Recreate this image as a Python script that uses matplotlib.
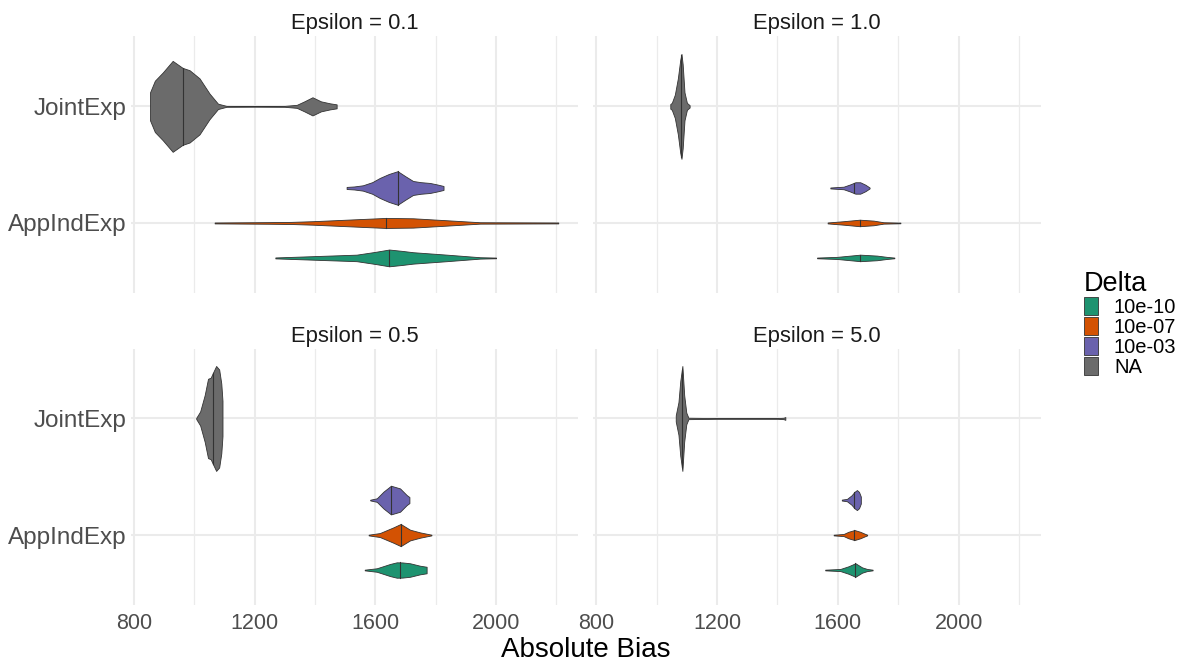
import numpy as np
import matplotlib
matplotlib.use("Agg")
import matplotlib.pyplot as plt
from matplotlib.patches import Patch

plt.rcParams['font.family'] = ['Liberation Sans', 'DejaVu Sans']

# Categories / groups
methods = ["AppIndExp", "JointExp"]
deltas = ["10e-10", "10e-07", "10e-03", "NA"]
colours = {"10e-10": "#1E9370", "10e-07": "#D35203", "10e-03": "#6A62AD", "NA": "#6B6B6B"}
epsilons = ["0.1", "1.0", "0.5", "5.0"]

# Violin outlines: x = Absolute Bias, w = half width (category units)
# Epsilon = 0.1
e01_joint_x = [854, 870, 896, 929, 962, 985, 1018, 1051, 1079, 1107, 1200, 1300, 1340, 1365, 1392, 1420, 1450, 1472]
e01_joint_w = [0.12, 0.22, 0.29, 0.39, 0.33, 0.31, 0.24, 0.11, 0.023, 0.004, 0.003, 0.004, 0.013, 0.043, 0.078, 0.043, 0.026, 0.017]
e01_d03_x = [1505, 1530, 1559, 1590, 1615, 1645, 1674, 1700, 1725, 1750, 1781, 1805, 1826]
e01_d03_w = [0.009, 0.013, 0.023, 0.05, 0.086, 0.12, 0.144, 0.10, 0.06, 0.05, 0.043, 0.03, 0.017]
e01_d07_x = [1068, 1250, 1320, 1393, 1505, 1635, 1725, 1837, 1947, 2206]
e01_d07_w = [0.004, 0.007, 0.009, 0.015, 0.028, 0.043, 0.04, 0.023, 0.006, 0.004]
e01_d10_x = [1269, 1393, 1538, 1600, 1646, 1690, 1725, 1837, 1947, 2000]
e01_d10_w = [0.004, 0.015, 0.028, 0.052, 0.072, 0.06, 0.049, 0.028, 0.006, 0.003]
# Epsilon = 1.0
e1_joint_x = [1045, 1050, 1060, 1070, 1078, 1082, 1086, 1092, 1100, 1109]
e1_joint_w = [0.02, 0.03, 0.10, 0.24, 0.40, 0.45, 0.36, 0.12, 0.03, 0.01]
e1_d03_x = [1575, 1619, 1640, 1658, 1674, 1691, 1705]
e1_d03_w = [0.004, 0.011, 0.03, 0.049, 0.049, 0.028, 0.004]
e1_d07_x = [1566, 1619, 1672, 1718, 1751, 1807]
e1_d07_w = [0.004, 0.015, 0.028, 0.02, 0.006, 0.003]
e1_d10_x = [1531, 1597, 1674, 1729, 1762, 1787]
e1_d10_w = [0.003, 0.009, 0.028, 0.02, 0.009, 0.003]
# Epsilon = 0.5
e05_joint_x = [1007, 1020, 1035, 1046, 1055, 1062, 1073, 1083, 1090, 1094]
e05_joint_w = [0.005, 0.06, 0.2, 0.34, 0.35, 0.39, 0.45, 0.42, 0.3, 0.15]
e05_d03_x = [1583, 1605, 1627, 1652, 1682, 1704, 1713]
e05_d03_w = [0.003, 0.015, 0.072, 0.123, 0.10, 0.043, 0.026]
e05_d07_x = [1578, 1615, 1660, 1684, 1715, 1748, 1786]
e05_d07_w = [0.003, 0.017, 0.066, 0.095, 0.046, 0.023, 0.003]
e05_d10_x = [1565, 1605, 1649, 1671, 1690, 1715, 1748, 1770]
e05_d10_w = [0.003, 0.015, 0.052, 0.066, 0.065, 0.058, 0.037, 0.028]
# Epsilon = 5.0
e5_joint_x = [1063, 1072, 1078, 1085, 1091, 1098, 1105, 1200, 1300, 1400, 1420, 1426]
e5_joint_w = [0.026, 0.14, 0.32, 0.45, 0.2, 0.05, 0.006, 0.003, 0.003, 0.003, 0.006, 0.012]
e5_d03_x = [1613, 1630, 1645, 1655, 1663, 1670, 1676]
e5_d03_w = [0.004, 0.01, 0.04, 0.07, 0.086, 0.07, 0.03]
e5_d07_x = [1586, 1619, 1635, 1655, 1674, 1691, 1697]
e5_d07_w = [0.003, 0.009, 0.028, 0.043, 0.028, 0.009, 0.003]
e5_d10_x = [1558, 1608, 1635, 1658, 1680, 1697, 1715]
e5_d10_w = [0.003, 0.009, 0.032, 0.058, 0.023, 0.009, 0.003]

# Medians (Absolute Bias), order: JointExp, 10e-03, 10e-07, 10e-10
medians_e01 = [962, 1674, 1635, 1646]
medians_e1 = [1081, 1655, 1672, 1674]
medians_e05 = [1062, 1652, 1684, 1682]
medians_e5 = [1083, 1655, 1652, 1658]

panels = {
    "0.1": [(e01_joint_x, e01_joint_w), (e01_d03_x, e01_d03_w), (e01_d07_x, e01_d07_w), (e01_d10_x, e01_d10_w), medians_e01],
    "1.0": [(e1_joint_x, e1_joint_w), (e1_d03_x, e1_d03_w), (e1_d07_x, e1_d07_w), (e1_d10_x, e1_d10_w), medians_e1],
    "0.5": [(e05_joint_x, e05_joint_w), (e05_d03_x, e05_d03_w), (e05_d07_x, e05_d07_w), (e05_d10_x, e05_d10_w), medians_e05],
    "5.0": [(e5_joint_x, e5_joint_w), (e5_d03_x, e5_d03_w), (e5_d07_x, e5_d07_w), (e5_d10_x, e5_d10_w), medians_e5],
}

# group -> (category, dodge offset)
groups = [("JointExp", "NA", 0.0), ("AppIndExp", "10e-03", 0.3), ("AppIndExp", "10e-07", 0.0), ("AppIndExp", "10e-10", -0.3)]

W, H = 1188, 665
fig = plt.figure(figsize=(W / 100, H / 100), dpi=100)

lefts = [130.7, 593.3]
pw = 447.5
tops = [36.4, 348.5]
ph = 256.5
grid_c = "#EBEBEB"

axes = []
for i, eps in enumerate(epsilons):
    r, c = divmod(i, 2)
    ax = fig.add_axes([lefts[c] / W, 1 - (tops[r] + ph) / H, pw / W, ph / H])
    axes.append(ax)
    ax.set_xlim(790, 2272)
    ax.set_ylim(0.4, 2.6)
    ax.set_xticks([800, 1200, 1600, 2000])
    ax.set_xticks([1000, 1400, 1800, 2200], minor=True)
    ax.set_yticks([1, 2])
    ax.set_yticklabels(methods)
    for s in ax.spines.values():
        s.set_visible(False)
    ax.grid(True, which="major", color=grid_c, lw=1.5)
    ax.grid(True, which="minor", axis="x", color=grid_c, lw=0.9)
    ax.set_axisbelow(True)
    ax.tick_params(which="both", length=0)
    ax.tick_params(axis="y", labelsize=17.5, pad=3, labelcolor="#4D4D4D")
    ax.tick_params(axis="x", labelsize=15.5, pad=6, labelcolor="#4D4D4D")
    if c == 1:
        ax.set_yticklabels([])
    if r == 0:
        ax.set_xticklabels([])
    ax.set_title(f"Epsilon = {eps}", fontsize=15.8, color="#1A1A1A", pad=5)

    data = panels[eps]
    meds = data[4]
    for k, (cat, d, off) in enumerate(groups):
        xs = np.array(data[k][0], dtype=float)
        ws = np.array(data[k][1], dtype=float)
        yc = methods.index(cat) + 1 + off
        ax.fill_between(xs, yc - ws, yc + ws, facecolor=colours[d], edgecolor="#333333", lw=0.6, zorder=3)
        m = meds[k]
        wm = np.interp(m, xs, ws)
        ax.plot([m, m], [yc - wm, yc + wm], color="#333333", lw=0.8, zorder=4)

fig.text(585.6 / W, 1 - 650 / H, "Absolute Bias", ha="center", va="center", fontsize=20)

handles = [Patch(facecolor=colours[d], edgecolor="#333333", lw=0.6) for d in deltas]
fig.legend(handles, deltas, loc="upper left", bbox_to_anchor=(1068 / W, 1 - 255 / H),
           frameon=False, title="Delta", title_fontsize=19.5, fontsize=14.5, alignment="left",
           handlelength=0.68, handleheight=1.02, labelspacing=0.0, handletextpad=0.8,
           borderpad=0.3)

fig.savefig("out.png", dpi=100)
